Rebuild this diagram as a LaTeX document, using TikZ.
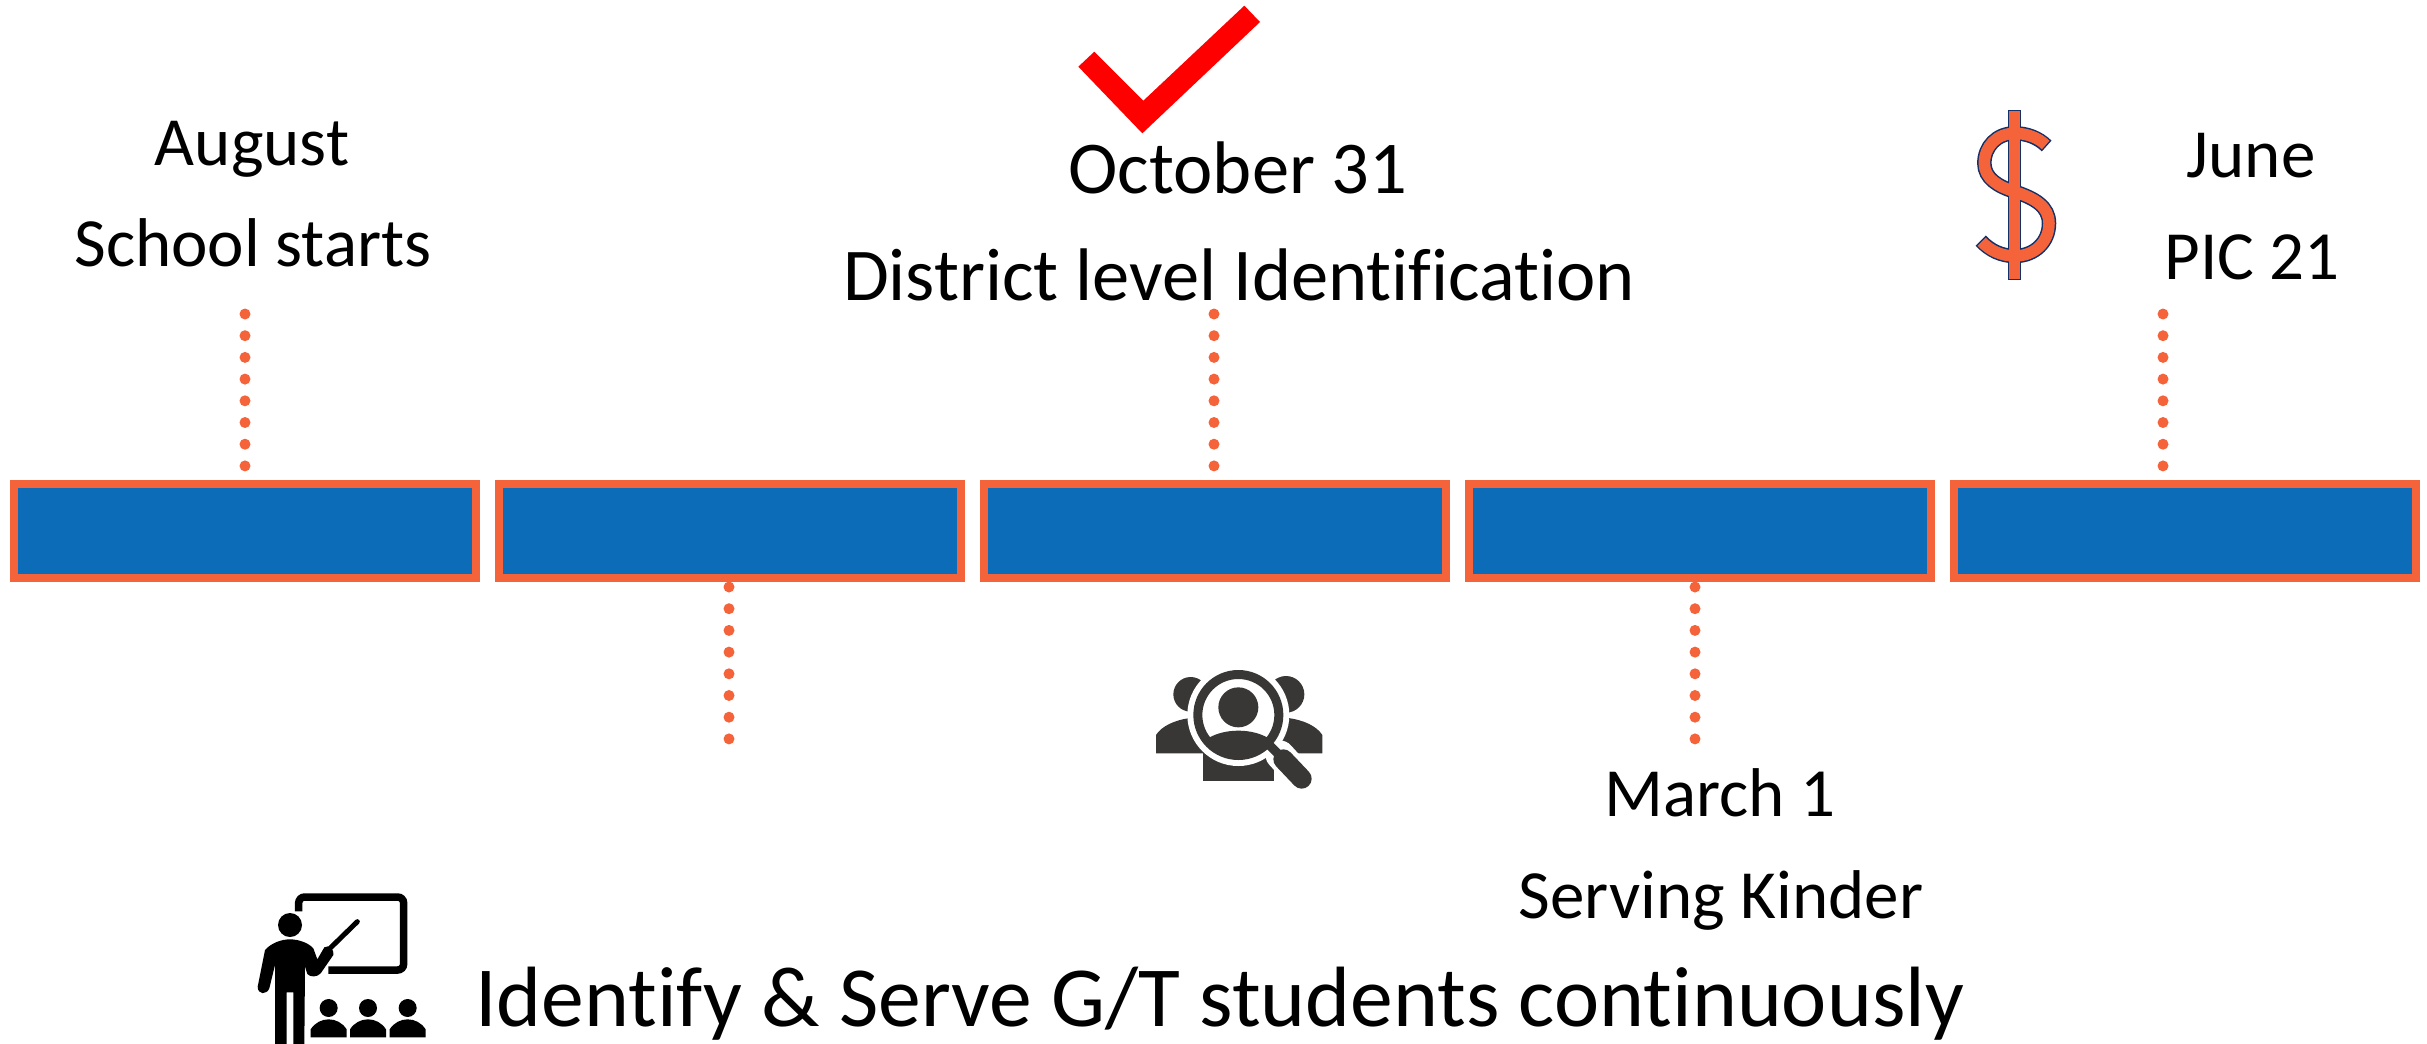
\documentclass[tikz,border=0pt]{standalone}
\usepackage{fontspec}
\setmainfont{Carlito}[Ligatures=NoCommon]
\definecolor{orng}{HTML}{F4633A}
\definecolor{barblue}{HTML}{0D6CB8}
\definecolor{navy}{HTML}{10316B}
\definecolor{darkicon}{HTML}{383735}
\tikzset{
  barbox/.style={draw=orng,fill=barblue,line width=8bp,minimum width=462bp,minimum height=94bp,inner sep=0pt},
  dotline/.style={draw=orng,line width=11bp,line cap=round,dash pattern=on 0bp off 21.7bp},
  lab/.style={anchor=base,inner sep=0pt,text=black},
  smalltxt/.style={font=\fontsize{69bp}{80bp}\selectfont},
  midtxt/.style={font=\fontsize{74.5bp}{86bp}\selectfont},
  bigtxt/.style={font=\fontsize{85.6bp}{98bp}\selectfont},
  icon/.style={shift={#1},scale=1/3},
}
\begin{document}
\begin{tikzpicture}[x=1bp,y=-1bp]
\useasboundingbox (0,0) rectangle (2427,1043);
% bars
\node[barbox] (b1) at (245,531) {};
\node[barbox] (b2) at (730,531) {};
\node[barbox] (b3) at (1215,531) {};
\node[barbox] (b4) at (1700,531) {};
\node[barbox] (b5) at (2185,531) {};
% connector free ends
\coordinate (t1) at (245,314);
\coordinate (e1) at (245,466.5);
\coordinate (t3) at (1214,314);
\coordinate (e3) at (1214,466.5);
\coordinate (t5) at (2163,314);
\coordinate (e5) at (2163,466.5);
\coordinate (s2) at (729,587);
\coordinate (t2) at (729,740);
\coordinate (s4) at (1695,587);
\coordinate (t4) at (1695,740);
\draw[dotline] (t1) -- (e1);
\draw[dotline] (t3) -- (e3);
\draw[dotline] (t5) -- (e5);
\draw[dotline] (s2) -- (t2);
\draw[dotline] (s4) -- (t4);
% texts
\node[lab,smalltxt] (aug) at (252,165) {August};
\node[lab,smalltxt] (sch) at (253,266) {School starts};
\node[lab,midtxt] (oct) at (1238,193) {October 31};
\node[lab,midtxt] (dis) at (1239,300) {District level Identification};
\node[lab,smalltxt] (jun) at (2251,177) {June};
\node[lab,smalltxt] (pic) at (2252,279) {PIC 21};
\node[lab,smalltxt] (mar) at (1720,816) {March 1};
\node[lab,smalltxt] (ser) at (1721,918) {Serving Kinder};
\node[lab,anchor=base west,bigtxt] (ide) at (475,1026) {Identify \& Serve G/T students continuously};
% check mark
\begin{scope}[icon={(1060,0)}]
\fill[red] (55,200) -- (103,155) -- (250,302) -- (553,17) -- (600,66) -- (247,400) -- cycle;
\end{scope}
% dollar
\begin{scope}[icon={(1940,90)}]
\draw[navy,line width=13bp] (224,60) -- (224,570);
\draw[navy,line width=14.5bp] (320,168) .. controls (295,143) and (260,130) .. (224,130) .. controls (170,130) and (133,170) .. (133,220) .. controls (133,265) and (175,290) .. (224,305) .. controls (285,325) and (327,350) .. (327,400) .. controls (327,455) and (285,498) .. (224,498) .. controls (185,498) and (150,482) .. (122,452);
\draw[orng,line width=10.5bp] (224,64) -- (224,566);
\draw[orng,line width=11.5bp] (317,165) .. controls (295,143) and (260,130) .. (224,130) .. controls (170,130) and (133,170) .. (133,220) .. controls (133,265) and (175,290) .. (224,305) .. controls (285,325) and (327,350) .. (327,400) .. controls (327,455) and (285,498) .. (224,498) .. controls (185,498) and (150,482) .. (125,455);
\end{scope}
% search people icon
\begin{scope}[icon={(1050,640)}]
\fill[darkicon] (422,163) circle (52);
\fill[darkicon] (708,163) circle (55);
\fill[darkicon] (318,340) -- (318,285) .. controls (335,258) and (375,240) .. (420,234) -- (520,234) -- (520,340) -- cycle;
\fill[darkicon] (817,340) -- (817,285) .. controls (800,258) and (760,240) .. (715,234) -- (620,234) -- (620,340) -- cycle;
\fill[darkicon] (460,422) -- (460,330) -- (673,330) -- (673,422) -- cycle;
\fill[white] (565,225) circle (153);
\draw[white,line width=29bp,line cap=round] (690,345) -- (757,418);
\draw[darkicon,line width=9bp] (565,225) circle (121.5);
\fill[darkicon] (565,202) circle (60);
\begin{scope}
\clip (565,225) circle (115);
\fill[darkicon] (565,345) ellipse (125 and 73);
\end{scope}
\draw[darkicon,line width=9bp] (655,312) -- (700,358);
\draw[darkicon,line width=20bp,line cap=round] (700,358) -- (755,416);
\end{scope}
% teacher icon
\begin{scope}[icon={(230,870)}]
\draw[black,line width=7.5bp,rounded corners=6bp] (206,124) -- (206,81) -- (521,81) -- (521,300) -- (295,300);
\fill[black] (180,165) circle (36);
\fill[black] (83,350) -- (105,240) .. controls (125,218) and (155,208) .. (180,208) .. controls (205,208) and (235,218) .. (250,235) -- (262,268) -- (283,232) .. controls (295,222) and (315,240) .. (310,255) -- (272,310) .. controls (262,322) and (240,322) .. (232,312) -- (225,290) -- (223,525) -- (190,525) -- (190,367) -- (170,367) -- (170,525) -- (135,525) -- (135,285) -- (118,355) .. controls (110,375) and (83,375) .. (83,350) -- cycle;
\draw[black,line width=5bp,line cap=round] (300,235) -- (382,155);
\fill[black] (296,414) circle (27);
\fill[black] (414,414) circle (27);
\fill[black] (533,414) circle (27);
\fill[black] (242,502) -- (242,478) .. controls (255,458) and (275,448) .. (296,448) .. controls (317,448) and (337,458) .. (350,478) -- (350,502) -- cycle;
\fill[black] (360,502) -- (360,478) .. controls (373,458) and (393,448) .. (414,448) .. controls (435,448) and (455,458) .. (468,478) -- (468,502) -- cycle;
\fill[black] (479,502) -- (479,478) .. controls (492,458) and (512,448) .. (533,448) .. controls (554,448) and (574,458) .. (587,478) -- (587,502) -- cycle;
\end{scope}
\end{tikzpicture}
\end{document}
